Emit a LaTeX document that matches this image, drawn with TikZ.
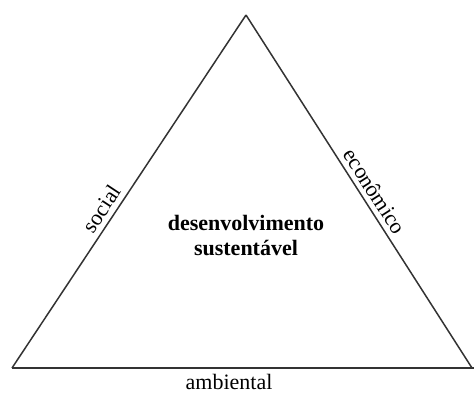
\documentclass[tikz,border=0pt]{standalone}
\usepackage{fontspec}
\setmainfont{Liberation Serif}
\usetikzlibrary{positioning}

\begin{document}
\begin{tikzpicture}[x=0.5pt, y=-0.5pt, font=\fontsize{11}{13}\selectfont,
    side/.style={draw=black!80, line width=0.75pt},
    sidelabel/.style={sloped, above, inner sep=2.5pt}]
    \useasboundingbox (0,0) rectangle (474,392);

      \coordinate (left) at (12,368);
      \coordinate (apex) at (246,15);
      \coordinate (right) at (472,368);

      \draw[side] (left) -- node[sidelabel, pos=0.43] (social) {social} (apex);
      \draw[side] (apex) -- node[sidelabel, pos=0.52] (economico) {econômico} (right);
      \draw[side] (left) -- (474,368);

      \node[align=center, font=\fontsize{11}{12.5}\selectfont\bfseries] (centro) at (246,235)
        {desenvolvimento\\sustentável};

      \node (ambiental) at (229,382) {ambiental};
  \end{tikzpicture}
\end{document}
